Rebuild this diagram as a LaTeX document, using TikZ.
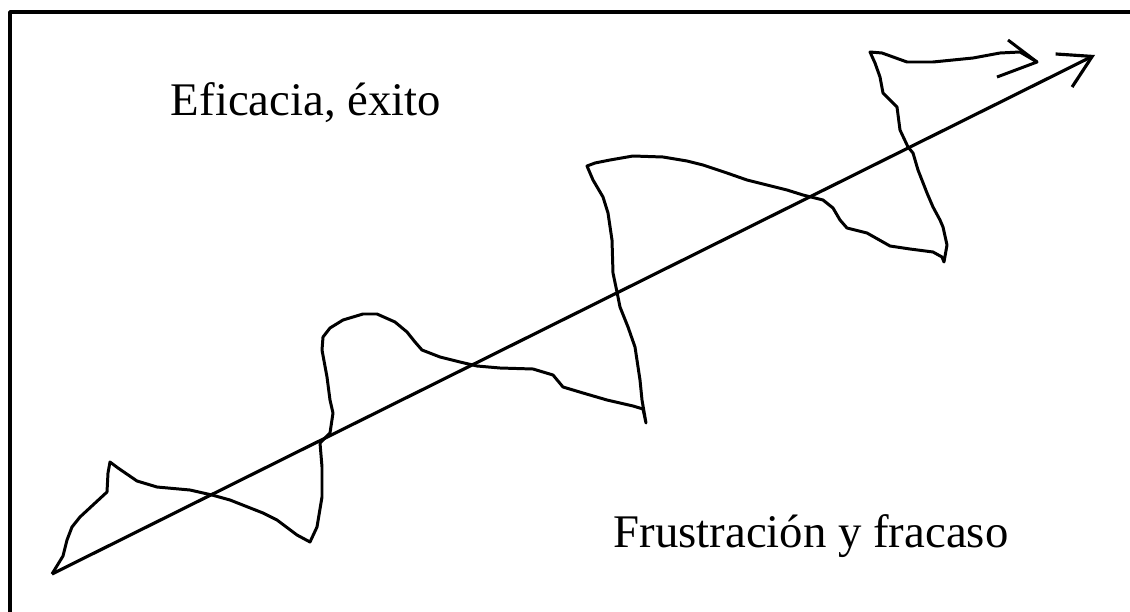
\documentclass[tikz,border=0pt]{standalone}
\usepackage{fontspec}
\setmainfont{Liberation Serif}
\usetikzlibrary{arrows.meta}

\begin{document}
\begin{tikzpicture}[x=0.01cm, y=-0.01cm, line width=0.9pt, line join=round,
  every node/.style={font=\fontsize{13.3pt}{16pt}\selectfont, inner sep=0pt},
  wobble/.style={line width=0.85pt}]
  \useasboundingbox (0,0) rectangle (1130,612);
  \draw[line width=1pt] (1130,12) -- (10,12) -- (10,612);
  \node[anchor=base] (exito) at (306,115) {Eficacia, éxito};
  \node[anchor=base] (fracaso) at (811,547) {Frustración y fracaso};
  \coordinate (tail) at (52,574);
  \coordinate (head) at (1095,55);
  \coordinate (wtip) at (1037,62);
  \draw[-{Straight Barb[length=9pt, width=10.5pt]}] (tail) -- (head);
  \draw[wobble] (tail) -- (63,556) -- (67,540) -- (72,527) -- (80,517) -- (107,492)
    -- (108,473) -- (110,462) -- (118,468) -- (137,481) -- (157,487) -- (190,490)
    -- (212,495) -- (230,500) -- (263,513) -- (277,520) -- (297,535) -- (310,542)
    -- (317,527) -- (322,497) -- (322,467) -- (320,443) -- (330,433) -- (333,413)
    -- (330,400) -- (327,377) -- (322,350) -- (323,337) -- (330,328) -- (343,320)
    -- (363,314) -- (377,314) -- (395,322) -- (407,332) -- (415,342) -- (422,350)
    -- (440,357) -- (460,362) -- (477,366) -- (500,368) -- (533,369) -- (553,375)
    -- (563,387) -- (583,393) -- (607,400) -- (633,406) -- (643,409) -- (646,423)
    -- (642,400) -- (640,380) -- (635,347) -- (628,327) -- (620,307) -- (617,292)
    -- (613,273) -- (612,240) -- (608,213) -- (603,197) -- (593,180) -- (587,166)
    -- (595,163) -- (610,160) -- (633,156) -- (663,157) -- (687,161) -- (703,165)
    -- (727,173) -- (747,180) -- (767,185) -- (787,190) -- (803,195) -- (823,200)
    -- (833,208) -- (840,220) -- (847,228) -- (867,233) -- (890,246) -- (910,249)
    -- (933,252) -- (942,257) -- (944,262) -- (947,245) -- (943,227) -- (940,220)
    -- (933,207) -- (927,193) -- (918,170) -- (913,153) -- (908,147) -- (900,130)
    -- (897,107) -- (890,100) -- (883,93) -- (880,77) -- (875,63) -- (870,52)
    -- (882,53) -- (907,62) -- (933,62) -- (973,58) -- (1000,53) -- (1020,52) -- (wtip);
  \draw[wobble] (1008,40) -- (wtip) -- (997,77);
\end{tikzpicture}
\end{document}
